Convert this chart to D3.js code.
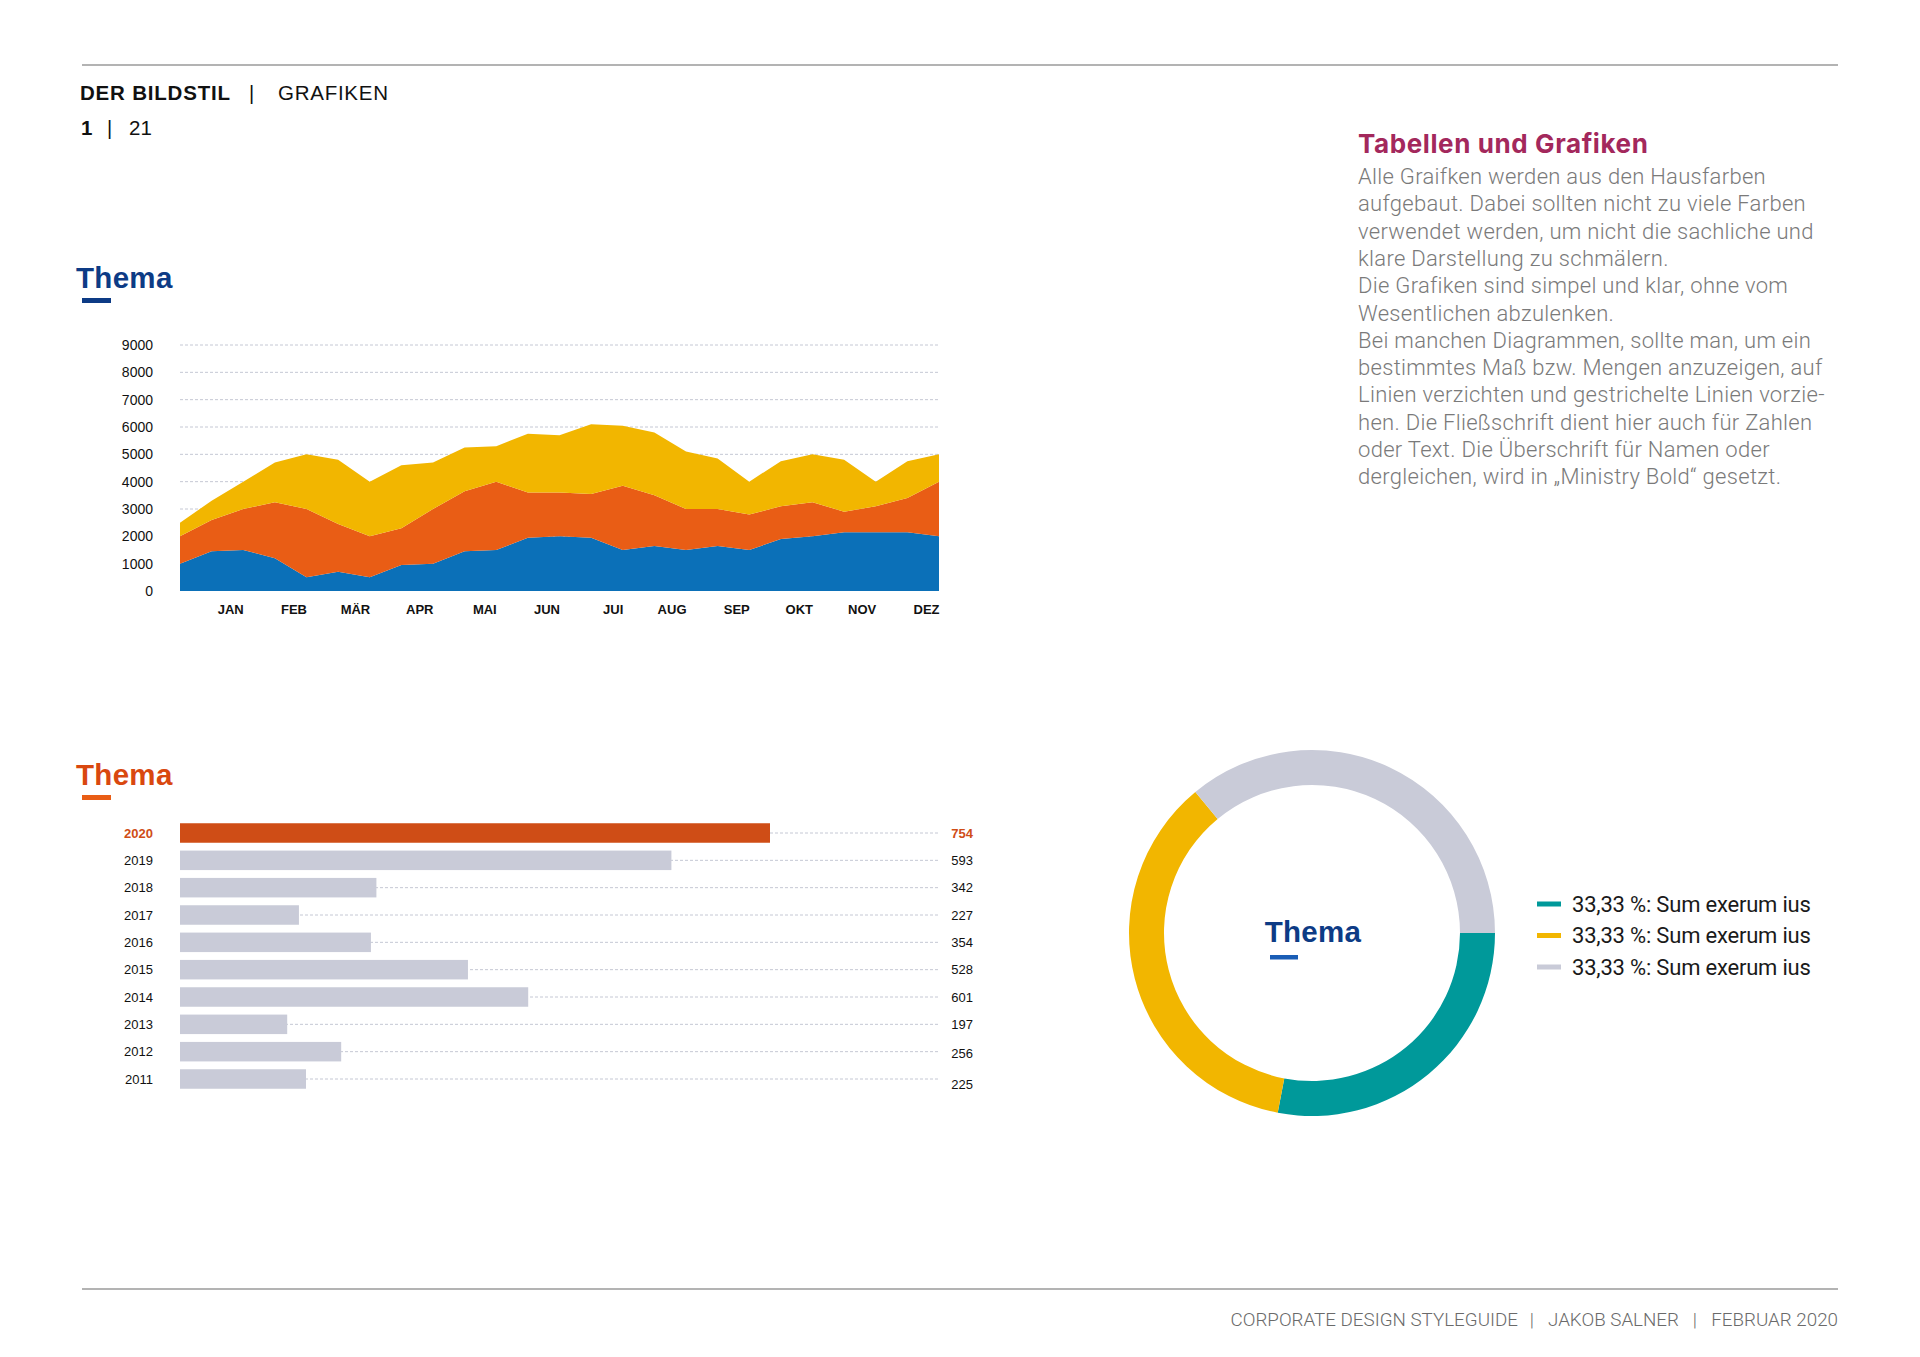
<!DOCTYPE html>
<html><head><meta charset="utf-8">
<script src="https://cdn.jsdelivr.net/npm/d3@7"></script>
<style>
html,body{margin:0;padding:0;background:#fff;}
svg{display:block;}
</style></head>
<body>
<svg id="c" width="1920" height="1357"></svg>
<script>
// ---------- DATA ----------
const pointIndex = [0,1,2,3,4,5,6,7,8,9,10,11,12,13,14,15,16,17,18,19,20,21,22,23,24];
const months = ["JAN","FEB","MÄR","APR","MAI","JUN","JUI","AUG","SEP","OKT","NOV","DEZ"];
const seriesBlue   = [1000,1450,1500,1200,500,700,500,950,1000,1450,1500,1950,2000,1950,1500,1650,1500,1650,1500,1900,2000,2150,2150,2150,2000];
const seriesOrange = [1000,1150,1500,2050,2500,1750,1500,1350,2000,2200,2500,1650,1600,1600,2350,1850,1500,1350,1300,1200,1250,750,950,1250,2000];
const seriesYellow = [500,700,1000,1450,2000,2350,2000,2300,1700,1600,1300,2150,2100,2550,2200,2300,2100,1850,1200,1650,1750,1900,900,1350,1000];
const yTicks = [0,1000,2000,3000,4000,5000,6000,7000,8000,9000];

const years = ["2020","2019","2018","2017","2016","2015","2014","2013","2012","2011"];
const barLengths = [754,628,251,152,244,368,445,137,206,161];
const barLabels = ["754","593","342","227","354","528","601","197","256","225"];

const donutValues = [28,36,36];
const donutLabels = ["33,33 %: Sum exerum ius","33,33 %: Sum exerum ius","33,33 %: Sum exerum ius"];

const bodyLines = [
 "Alle Graifken werden aus den Hausfarben",
 "aufgebaut. Dabei sollten nicht zu viele Farben",
 "verwendet werden, um nicht die sachliche und",
 "klare Darstellung zu schmälern.",
 "Die Grafiken sind simpel und klar, ohne vom",
 "Wesentlichen abzulenken.",
 "Bei manchen Diagrammen, sollte man, um  ein",
 "bestimmtes Maß bzw. Mengen anzuzeigen, auf",
 "Linien verzichten und gestrichelte Linien vorzie-",
 "hen. Die Fließschrift dient hier auch für Zahlen",
 "oder Text. Die Überschrift für Namen oder",
 "dergleichen, wird in „Ministry Bold“ gesetzt."
];

// ---------- STYLE ----------
const C = {
  blue:"#0B70B8", orange:"#E95D15", yellow:"#F2B600",
  navy:"#0D3B85", bar2020:"#CF4D16", grayBar:"#C9CBD8",
  teal:"#00999A", grid:"#C5C8D4", raspberry:"#A3285C", bodyGray:"#7A7A7A"
};
const SANS = "'Liberation Sans', Arial, Helvetica, sans-serif";
const svg = d3.select("#c");

// ---------- HEADER / FOOTER ----------
svg.append("line").attr("x1",82).attr("x2",1838).attr("y1",65).attr("y2",65)
  .attr("stroke","#9a9a9a").attr("stroke-width",1.5);
svg.append("line").attr("x1",82).attr("x2",1838).attr("y1",1289).attr("y2",1289)
  .attr("stroke","#9a9a9a").attr("stroke-width",1.5);

const hdr = svg.append("g").attr("font-family",SANS).attr("fill","#111");
hdr.append("text").attr("x",80).attr("y",100).attr("font-size",20.5).attr("font-weight","bold")
  .attr("textLength",150).text("DER BILDSTIL");
hdr.append("text").attr("x",249).attr("y",100).attr("font-size",20).text("|");
hdr.append("text").attr("x",278).attr("y",100).attr("font-size",20.5).attr("textLength",110).text("GRAFIKEN");
hdr.append("text").attr("x",81).attr("y",135).attr("font-size",20.5).attr("font-weight","bold").text("1");
hdr.append("text").attr("x",107).attr("y",135).attr("font-size",20).text("|");
hdr.append("text").attr("x",129).attr("y",135).attr("font-size",20.5).text("21");

const ftr = svg.append("g").attr("font-family","Roboto, sans-serif").attr("font-weight",300)
  .attr("fill","#6a6a6a").attr("font-size",18.8).attr("text-anchor","end");
ftr.append("text").attr("x",1838).attr("y",1326).text("FEBRUAR 2020");
ftr.append("text").attr("x",1697).attr("y",1326).text("|");
ftr.append("text").attr("x",1679).attr("y",1326).text("JAKOB SALNER");
ftr.append("text").attr("x",1534).attr("y",1326).text("|");
ftr.append("text").attr("x",1518).attr("y",1326).text("CORPORATE DESIGN STYLEGUIDE");

// ---------- RIGHT TEXT BLOCK ----------
svg.append("text").attr("x",1358).attr("y",153).attr("font-family","Inter, 'Liberation Sans', sans-serif")
  .attr("font-weight",700).attr("font-size",26).attr("letter-spacing",0.6)
  .attr("fill",C.raspberry).text("Tabellen und Grafiken");
const body = svg.append("g").attr("font-family","Roboto, sans-serif").attr("font-weight",300)
  .attr("font-size",22).attr("letter-spacing",0.3).attr("fill",C.bodyGray);
body.selectAll("text").data(bodyLines).join("text")
  .attr("x",1358).attr("y",(d,i)=>184 + i*27.3).text(d=>d);

// ---------- helper: Thema heading ----------
function thema(x, y, color, anchor){
  svg.append("text").attr("x",x).attr("y",y).attr("font-family",SANS).attr("font-weight","bold")
    .attr("font-size",29.5).attr("letter-spacing",0.3).attr("fill",color)
    .attr("text-anchor",anchor||"start").text("Thema");
}

// ---------- AREA CHART ----------
thema(76, 288, C.navy);
svg.append("rect").attr("x",82).attr("y",298).attr("width",29).attr("height",5).attr("fill",C.navy);

const xA = d3.scaleLinear().domain([0,24]).range([180,939]);
const yA = d3.scaleLinear().domain([0,9000]).range([591,345]);

svg.append("g").selectAll("line").data(yTicks.filter(d=>d>0)).join("line")
  .attr("x1",180).attr("x2",939).attr("y1",d=>yA(d)).attr("y2",d=>yA(d))
  .attr("stroke",C.grid).attr("stroke-width",1).attr("stroke-dasharray","3,2");

const table = pointIndex.map((p,i)=>({p, blue:seriesBlue[i], orange:seriesOrange[i], yellow:seriesYellow[i]}));
const stack = d3.stack().keys(["blue","orange","yellow"])(table);
const area = d3.area().x(d=>xA(d.data.p)).y0(d=>yA(d[0])).y1(d=>yA(d[1]));
const colorsA = {blue:C.blue, orange:C.orange, yellow:C.yellow};
svg.append("g").selectAll("path").data(stack).join("path")
  .attr("d",area).attr("fill",d=>colorsA[d.key]);

const yAxis = d3.axisLeft(yA).tickValues(yTicks).tickSize(0).tickPadding(0).tickFormat(d3.format("d"));
const yg = svg.append("g").attr("transform","translate(153,0)").call(yAxis);
yg.select(".domain").remove();
yg.selectAll("text").attr("font-family",SANS).attr("font-size",14).attr("fill","#111");

const xPos = d3.scalePoint().domain(months).range([xA(2), xA(24)]);
const xAxis = d3.axisBottom(xPos).tickSize(0).tickPadding(0);
const xg = svg.append("g").attr("transform","translate(0,605)").call(xAxis);
xg.select(".domain").remove();
xg.selectAll("text").attr("font-family",SANS).attr("font-size",13).attr("font-weight","bold")
  .attr("fill","#111").attr("text-anchor","end");

// ---------- BAR CHART ----------
thema(76, 785, "#D9480F");
svg.append("rect").attr("x",82).attr("y",795).attr("width",29).attr("height",5).attr("fill",C.orange);

const xB = d3.scaleLinear().domain([0,754]).range([180,770]);
const yB = d3.scalePoint().domain(years).range([833,1079]);
const barH = 19.5;

svg.append("g").selectAll("line").data(years).join("line")
  .attr("x1",180).attr("x2",940).attr("y1",d=>yB(d)).attr("y2",d=>yB(d))
  .attr("stroke",C.grid).attr("stroke-width",1).attr("stroke-dasharray","3,2");

svg.append("g").selectAll("rect").data(years).join("rect")
  .attr("x",xB(0)).attr("y",d=>yB(d)-barH/2)
  .attr("width",(d,i)=>xB(barLengths[i])-xB(0)).attr("height",barH)
  .attr("fill",(d,i)=>i===0?C.bar2020:C.grayBar);

const yBg = svg.append("g").attr("transform","translate(153,0)")
  .call(d3.axisLeft(yB).tickSize(0).tickPadding(0));
yBg.select(".domain").remove();
yBg.selectAll("text").attr("font-family",SANS).attr("font-size",13)
  .attr("fill",(d,i)=>i===0?C.bar2020:"#111").attr("font-weight",(d,i)=>i===0?"bold":"normal");

svg.append("g").selectAll("text").data(years).join("text")
  .attr("x",973).attr("y",(d,i)=>yB(d) + (i===9?5:(i===8?2:0))).attr("dy","0.35em").attr("text-anchor","end")
  .attr("font-family",SANS).attr("font-size",13)
  .attr("font-weight",(d,i)=>i===0?"bold":"normal")
  .attr("fill",(d,i)=>i===0?C.bar2020:"#111")
  .text((d,i)=>barLabels[i]);

// ---------- DONUT ----------
const cx = 1312, cy = 933;
const pie = d3.pie().sort(null).startAngle(Math.PI/2).endAngle(Math.PI/2 + 2*Math.PI);
const arc = d3.arc().innerRadius(148).outerRadius(183);
const donutColors = [C.teal, C.yellow, C.grayBar];
svg.append("g").attr("transform",`translate(${cx},${cy})`)
  .selectAll("path").data(pie(donutValues)).join("path")
  .attr("d",arc).attr("fill",(d,i)=>donutColors[i]);

thema(cx+1, 942, C.navy, "middle");
svg.append("rect").attr("x",1270).attr("y",955).attr("width",28).attr("height",4.5).attr("fill","#1A5DB5");

const leg = svg.append("g");
const legY = d3.scalePoint().domain([0,1,2]).range([904,967]);
leg.selectAll("rect").data(donutValues).join("rect")
  .attr("x",1537).attr("y",(d,i)=>legY(i)-2.5).attr("width",24).attr("height",5)
  .attr("fill",(d,i)=>donutColors[i]);
leg.selectAll("text").data(donutLabels).join("text")
  .attr("x",1572).attr("y",(d,i)=>legY(i)).attr("dy","0.36em")
  .attr("font-family","Roboto, sans-serif").attr("font-size",22).attr("letter-spacing",-0.2)
  .attr("fill","#1a1a1a").text(d=>d);
</script>
</body></html>
